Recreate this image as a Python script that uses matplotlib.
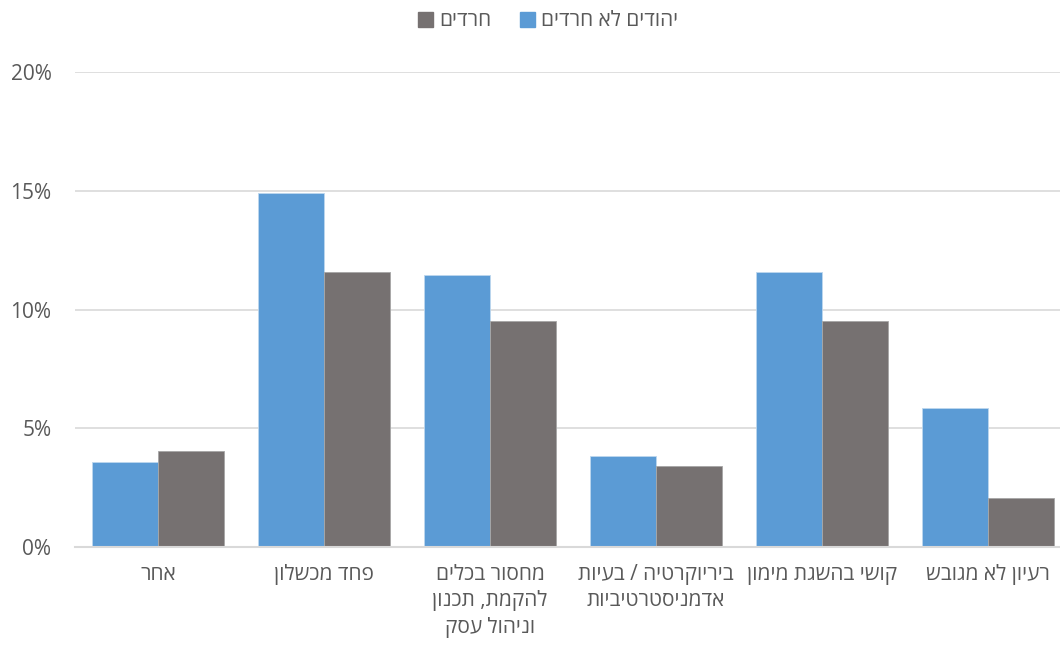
import matplotlib
matplotlib.use("Agg")
import matplotlib.pyplot as plt
import numpy as np
from matplotlib.patches import Patch

categories = [
    "אחר",
    "פחד מכשלון",
    "מחסור בכלים\nלהקמת, תכנון\nוניהול עסק",
    "ביריוקרטיה / בעיות\nאדמניסטרטיביות",
    "קושי בהשגת מימון",
    "רעיון לא מגובש",
]
series_names = ["יהודים לא חרדים", "חרדים"]
non_haredi = [0.036, 0.149, 0.1145, 0.0385, 0.1158, 0.0585]
haredi = [0.0405, 0.1158, 0.0952, 0.034, 0.0952, 0.0205]
yticks = [0, 0.05, 0.10, 0.15, 0.20]
ytick_labels = ["0%", "5%", "10%", "15%", "20%"]

BLUE = "#5B9BD5"
GRAY = "#767171"
TXT = "#595959"
GRID = "#D9D9D9"

plt.rcParams['font.family'] = ['Open Sans', 'DejaVu Sans']


def vis(s):
    # visual (left-to-right) order for right-to-left Hebrew text, line by line
    return "\n".join(line[::-1] for line in s.split("\n"))


fig = plt.figure(figsize=(10.6, 6.45), dpi=100)
ax = fig.add_axes([75 / 1060, 1 - 547 / 645, 985 / 1060, (547 - 72) / 645])

x = np.arange(len(categories))
w = 0.4
ax.bar(x - w / 2, non_haredi, w, color=BLUE, edgecolor="#BDD7EE", linewidth=0.6, zorder=3)
ax.bar(x + w / 2, haredi, w, color=GRAY, edgecolor="#A6A6A6", linewidth=0.6, zorder=3)

ax.set_xlim(-0.5, -0.5 + 985 / 166)
ax.set_ylim(0, 0.20)
ax.set_yticks(yticks)
ax.set_yticklabels(ytick_labels)
ax.set_xticks(x)
ax.set_xticklabels([vis(c) for c in categories], linespacing=1.36, va="top")
ax.tick_params(axis="y", length=0, pad=17, labelsize=15, labelcolor=TXT)
ax.tick_params(axis="x", length=0, pad=12, labelsize=15, labelcolor=TXT)
ax.grid(axis="y", color=GRID, linewidth=1.2, zorder=0)
for s in ["top", "right", "left"]:
    ax.spines[s].set_visible(False)
ax.spines["bottom"].set_color(GRID)
ax.spines["bottom"].set_linewidth(1.5)
ax.spines["bottom"].set_zorder(4)

handles = [Patch(facecolor=GRAY, edgecolor=GRAY), Patch(facecolor=BLUE, edgecolor=BLUE)]
labels = [vis(series_names[1]), vis(series_names[0])]
fig.legend(handles, labels, loc="center", bbox_to_anchor=(548 / 1060, 1 - 21 / 645), ncol=2,
           frameon=False, fontsize=15, labelcolor=TXT, handlelength=0.7, handleheight=0.7,
           handletextpad=0.3, columnspacing=1.4)

fig.savefig("out.png", dpi=100)
